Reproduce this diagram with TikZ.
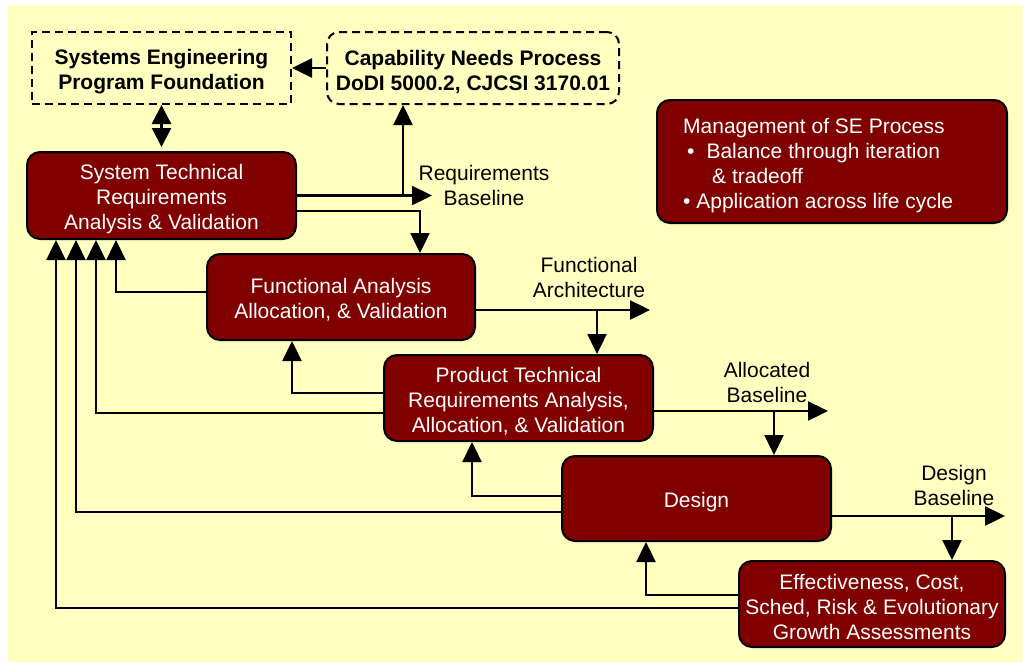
\documentclass[tikz,border=0pt]{standalone}
\usepackage{fontspec}
\setmainfont{Liberation Sans}
\usetikzlibrary{arrows.meta}
\definecolor{bgyellow}{HTML}{FFFFC0}
\definecolor{boxred}{HTML}{800000}
\newcommand\tup{\rule{0pt}{21.5pt}}
\newcommand\tupb{\rule{0pt}{22.5pt}}
\begin{document}
\begin{tikzpicture}[x=1pt,y=-1pt,
  every node/.style={font=\fontsize{21}{25}\selectfont},
  procbox/.style={draw=black, line width=2pt, fill=boxred, rounded corners=13pt, text=white, align=center, inner sep=0pt},
  dashbox/.style={draw=black, line width=2pt, dash pattern=on 8pt off 5pt, fill=bgyellow, align=center, inner sep=0pt, font=\fontsize{21}{25}\selectfont\bfseries},
  flow/.style={line width=2.4pt, -{Triangle[length=20pt,width=19pt]}},
  flowboth/.style={line width=2.4pt, {Triangle[length=19pt,width=19pt]}-{Triangle[length=19pt,width=19pt]}},
  lbl/.style={align=center, inner sep=0pt}
]
\useasboundingbox (0,0) rectangle (1023,662);
\fill[white] (0,0) rectangle (1023,662);
\fill[bgyellow] (8,5) rectangle (1023,662);

% nodes
\node[dashbox, minimum width=259, minimum height=72] (sepf) at (161.5,68) {\tupb Systems Engineering\\Program Foundation};
\node[dashbox, rounded corners=12pt, minimum width=292, minimum height=72] (cnp) at (473,68) {\tupb Capability Needs Process\\DoDI 5000.2, CJCSI 3170.01};
\node[procbox, minimum width=269, minimum height=87] (str) at (161.5,195.5) {\tup System Technical\\Requirements\\Analysis \& Validation};
\node[procbox, minimum width=268, minimum height=86] (fa) at (341,297) {\tup Functional Analysis\\Allocation, \& Validation};
\node[procbox, minimum width=269, minimum height=86] (ptr) at (518.5,398) {\tup Product Technical\\Requirements Analysis,\\Allocation, \& Validation};
\node[procbox, minimum width=269, minimum height=85] (des) at (696.5,498.5) {\tup Design};
\node[procbox, minimum width=266, minimum height=86] (eff) at (872,604) {\tup Effectiveness, Cost,\\Sched, Risk \& Evolutionary\\Growth Assessments};
\node[procbox, minimum width=350, minimum height=123] (mgmt) at (832,161.5) {};
\node[lbl, anchor=west, align=left, text=white] (mgmttext) at (683,165.5) {Management of SE Process\\\hspace*{4pt}•\hspace{12pt}Balance through iteration\\\hspace*{29pt}\& tradeoff\\• Application across life cycle};

% labels
\node[lbl] (rblabel) at (484,185) {Requirements\\Baseline};
\node[lbl] (falabel) at (589,277) {Functional\\Architecture};
\node[lbl] (ablabel) at (767,382.5) {Allocated\\Baseline};
\node[lbl] (dblabel) at (954,485.5) {Design\\Baseline};

% free ends
\coordinate (rbtip) at (432,195.5);
\coordinate (rbbend) at (403,195.5);
\coordinate (fatip) at (650,310);
\coordinate (fabend) at (597,310);
\coordinate (abtip) at (828,411);
\coordinate (abbend) at (774,411);
\coordinate (dbtip) at (1005,516);
\coordinate (dbbend) at (952,516);

% connectors
\draw[flow] (cnp.west) -- (sepf.east);
\draw[flowboth] (sepf.south) -- ([yshift=4]str.north);

\draw[flow] (str.east) -- (rbtip);
\draw[flow] (rbbend) -- (rbbend |- cnp.south);
\draw[flow] ([yshift=-15.5]str.east) -| ([xshift=79]fa.north);

\draw[flow] ([yshift=5]fa.west) -| ([xshift=-45.5]str.south);
\draw[flow] ([yshift=-13]fa.east) -- (fatip);
\draw[flow] (fabend) -- (fabend |- ptr.north);

\draw[flow] ([yshift=5]ptr.west) -| ([xshift=-49]fa.south);
\draw[flow] ([yshift=-15]ptr.west) -| ([xshift=-65.5]str.south);
\draw[flow] ([yshift=-13]ptr.east) -- (abtip);
\draw[flow] (abbend) -- (abbend |- des.north);

\draw[flow] ([yshift=2.5]des.west) -| ([xshift=-46.5]ptr.south);
\draw[flow] ([yshift=-13.5]des.west) -| ([xshift=-85.5]str.south);
\draw[flow] ([yshift=-17.5]des.east) -- (dbtip);
\draw[flow] (dbbend) -- (dbbend |- eff.north);

\draw[flow] ([yshift=9]eff.west) -| ([xshift=-50.5]des.south);
\draw[flow] ([yshift=-4]eff.west) -| ([xshift=-105.5]str.south);
\end{tikzpicture}
\end{document}
